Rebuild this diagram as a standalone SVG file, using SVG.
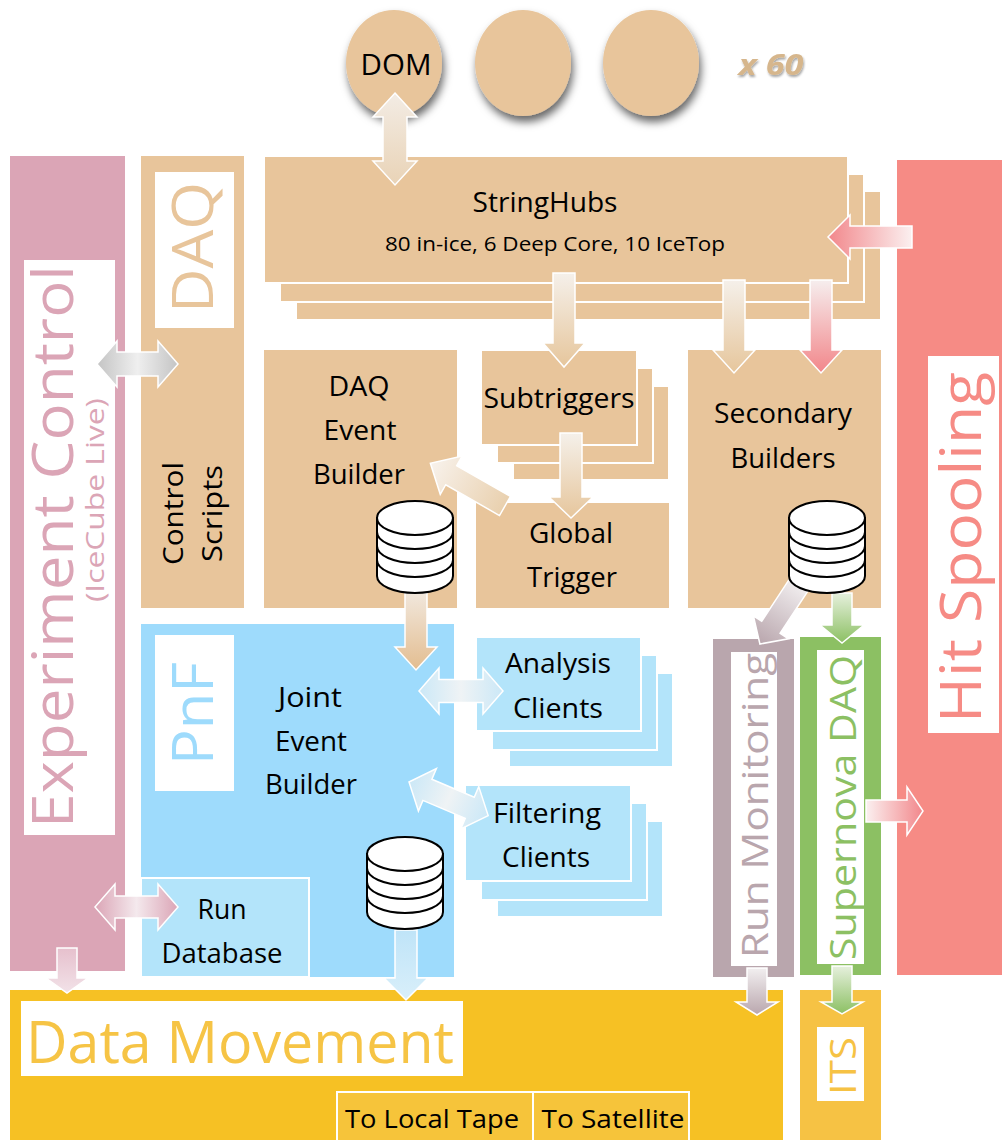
<svg xmlns="http://www.w3.org/2000/svg" width="1002" height="1140" viewBox="0 0 1002 1140">
<style>
text { font-family: "Open Sans", "Noto Sans", "Liberation Sans", sans-serif; }
.b { font-size: 27px; fill: #000; text-anchor: middle; }
.big { font-size: 57px; }
.mid { font-size: 37px; }
.tan { fill: #e8c59b; }
.tanbox { fill: #e8c59b; stroke: #fff; stroke-width: 2; }
.cli { fill: #b3e4fa; stroke: #fff; stroke-width: 2; }
.lbl { fill: #fff; }
.arr { stroke: #fff; stroke-width: 1.5; stroke-linejoin: miter; }
</style>
<defs>
<filter id="shadow" x="-30%" y="-30%" width="160%" height="170%">
<feDropShadow dx="2" dy="6" stdDeviation="4" flood-color="#000" flood-opacity="0.6"/>
</filter>
<filter id="tshadow" x="-20%" y="-30%" width="150%" height="170%">
<feDropShadow dx="1" dy="2" stdDeviation="1.2" flood-color="#000" flood-opacity="0.35"/>
</filter>
<g id="db-icon">
<path d="M1,18 V76 A38,17 0 0 0 77,76 V18 Z" fill="#fff" stroke="#000" stroke-width="2"/>
<ellipse cx="39" cy="18" rx="38" ry="17" fill="#fff" stroke="#000" stroke-width="2"/>
<path d="M1,32 A38,17 0 0 0 77,32 M1,46 A38,17 0 0 0 77,46 M1,60 A38,17 0 0 0 77,60" fill="none" stroke="#000" stroke-width="2"/>
</g>
<linearGradient id="gTanV" x1="0" y1="0" x2="0" y2="1"><stop offset="0" stop-color="#f5f0ea"/><stop offset="1" stop-color="#e6c69c"/></linearGradient>
<linearGradient id="gTanDom" x1="0" y1="0" x2="0" y2="1"><stop offset="0" stop-color="#f3ece4"/><stop offset="1" stop-color="#e9d3b6"/></linearGradient>
<linearGradient id="gTanDiag" x1="0" y1="0" x2="1" y2="0"><stop offset="0" stop-color="#e9d0ae"/><stop offset="1" stop-color="#f8f2ec"/></linearGradient>
<linearGradient id="gTanDb" x1="0" y1="0" x2="0" y2="1"><stop offset="0" stop-color="#f1e7dc"/><stop offset="1" stop-color="#e3bd90"/></linearGradient>
<linearGradient id="gPinkV" x1="0" y1="0" x2="0" y2="1"><stop offset="0" stop-color="#f6eeee"/><stop offset="1" stop-color="#f2868a"/></linearGradient>
<linearGradient id="gPinkL" x1="0" y1="0" x2="1" y2="0"><stop offset="0" stop-color="#f2878b"/><stop offset="1" stop-color="#fbf0f0"/></linearGradient>
<linearGradient id="gPinkR" x1="0" y1="0" x2="1" y2="0"><stop offset="0" stop-color="#fbf0f0"/><stop offset="1" stop-color="#f2878b"/></linearGradient>
<linearGradient id="gBlueD" x1="0" y1="0" x2="1" y2="0"><stop offset="0" stop-color="#cbe8f7"/><stop offset="0.5" stop-color="#eff3f5"/><stop offset="1" stop-color="#cbe8f7"/></linearGradient>
<linearGradient id="gBlueV" x1="0" y1="0" x2="0" y2="1"><stop offset="0" stop-color="#bfe4f8"/><stop offset="1" stop-color="#d9effa"/></linearGradient>
<linearGradient id="gGrayD" x1="0" y1="0" x2="1" y2="0"><stop offset="0" stop-color="#c4c4c4"/><stop offset="0.5" stop-color="#efefef"/><stop offset="1" stop-color="#c4c4c4"/></linearGradient>
<linearGradient id="gEcD" x1="0" y1="0" x2="1" y2="0"><stop offset="0" stop-color="#dba5b6"/><stop offset="0.5" stop-color="#f4e9ed"/><stop offset="1" stop-color="#dba5b6"/></linearGradient>
<linearGradient id="gEcV" x1="0" y1="0" x2="0" y2="1"><stop offset="0" stop-color="#e6c0cd"/><stop offset="1" stop-color="#f2e2e8"/></linearGradient>
<linearGradient id="gMauveDiag" x1="0" y1="0" x2="1" y2="0"><stop offset="0" stop-color="#f2eff0"/><stop offset="1" stop-color="#b9a6ad"/></linearGradient>
<linearGradient id="gMauveV" x1="0" y1="0" x2="0" y2="1"><stop offset="0" stop-color="#f2eff0"/><stop offset="1" stop-color="#b9a6ad"/></linearGradient>
<linearGradient id="gGreenV" x1="0" y1="0" x2="0" y2="1"><stop offset="0" stop-color="#e6f0dd"/><stop offset="1" stop-color="#8cc063"/></linearGradient>
</defs>

<rect width="1002" height="1140" fill="#fff"/>

<g id="dom-modules">
<ellipse cx="394" cy="63" rx="48" ry="53" fill="#e8c59b" filter="url(#shadow)"/>
<ellipse cx="523" cy="63" rx="48" ry="53" fill="#e8c59b" filter="url(#shadow)"/>
<ellipse cx="651" cy="63" rx="48" ry="53" fill="#e8c59b" filter="url(#shadow)"/>
<text x="396" y="75" font-size="30" fill="#000" text-anchor="middle" textLength="71" lengthAdjust="spacingAndGlyphs">DOM</text>
<text x="771" y="75" font-size="28" font-style="italic" font-weight="bold" fill="#d6b68c" text-anchor="middle" textLength="65" lengthAdjust="spacingAndGlyphs" filter="url(#tshadow)">x 60</text>
</g>

<g id="experiment-control">
<rect x="10" y="156" width="115" height="815" fill="#dba5b6"/>
<rect class="lbl" x="24" y="260" width="91" height="575"/>
<text class="big" transform="translate(73,828) rotate(-90)" fill="#dba5b6" textLength="563" lengthAdjust="spacingAndGlyphs">Experiment Control</text>
<text transform="translate(104,602) rotate(-90)" font-size="25" fill="#dba5b6" textLength="204" lengthAdjust="spacingAndGlyphs">(IceCube Live)</text>
</g>

<g id="daq-control-scripts">
<rect x="141" y="156" width="103" height="452" fill="#e8c59b"/>
<rect class="lbl" x="155" y="172" width="79" height="156"/>
<text class="big tan" transform="translate(213,313) rotate(-90)" textLength="131" lengthAdjust="spacingAndGlyphs">DAQ</text>
<text transform="translate(183,565) rotate(-90)" font-size="27" fill="#000" textLength="103" lengthAdjust="spacingAndGlyphs">Control</text>
<text transform="translate(222,562) rotate(-90)" font-size="27" fill="#000" textLength="97" lengthAdjust="spacingAndGlyphs">Scripts</text>
</g>

<g id="stringhubs">
<rect class="tanbox" x="296" y="191" width="585" height="129"/>
<rect class="tanbox" x="280" y="174" width="584" height="128"/>
<rect class="tanbox" x="264" y="156" width="584" height="127"/>
<text class="b" x="545" y="212" textLength="145" lengthAdjust="spacingAndGlyphs">StringHubs</text>
<text class="b" x="555" y="251" style="font-size:20px" textLength="340" lengthAdjust="spacingAndGlyphs">80 in-ice, 6 Deep Core, 10 IceTop</text>
</g>

<g id="daq-event-builder">
<rect x="264" y="350" width="193" height="258" fill="#e8c59b"/>
<text class="b" x="359" y="396" textLength="61" lengthAdjust="spacingAndGlyphs">DAQ</text>
<text class="b" x="360" y="440" textLength="73" lengthAdjust="spacingAndGlyphs">Event</text>
<text class="b" x="359" y="484" textLength="92" lengthAdjust="spacingAndGlyphs">Builder</text>
</g>

<g id="subtriggers">
<rect class="tanbox" x="513" y="386" width="156" height="94"/>
<rect class="tanbox" x="497" y="368" width="156" height="95"/>
<rect class="tanbox" x="481" y="350" width="156" height="95"/>
<text class="b" x="559" y="408" textLength="151" lengthAdjust="spacingAndGlyphs">Subtriggers</text>
</g>

<g id="global-trigger">
<rect x="476" y="503" width="193" height="105" fill="#e8c59b"/>
<text class="b" x="571" y="543" textLength="84" lengthAdjust="spacingAndGlyphs">Global</text>
<text class="b" x="572" y="587" textLength="90" lengthAdjust="spacingAndGlyphs">Trigger</text>
</g>

<g id="secondary-builders">
<rect x="688" y="350" width="193" height="258" fill="#e8c59b"/>
<text class="b" x="783" y="423" textLength="138" lengthAdjust="spacingAndGlyphs">Secondary</text>
<text class="b" x="783" y="468" textLength="105" lengthAdjust="spacingAndGlyphs">Builders</text>
</g>

<g id="hit-spooling">
<rect x="897" y="160" width="105" height="815" fill="#f68b85"/>
<rect class="lbl" x="928" y="356" width="71" height="377"/>
<text class="big" transform="translate(981,723) rotate(-90)" fill="#f68b85" textLength="351" lengthAdjust="spacingAndGlyphs">Hit Spooling</text>
</g>

<g id="pnf-joint-event-builder">
<rect x="141" y="624" width="313" height="353" fill="#9edbfc"/>
<rect class="lbl" x="155" y="635" width="79" height="156"/>
<text class="big" transform="translate(213,765) rotate(-90)" fill="#9edbfc" textLength="103" lengthAdjust="spacingAndGlyphs">PnF</text>
<text class="b" x="310" y="707" textLength="64" lengthAdjust="spacingAndGlyphs">Joint</text>
<text class="b" x="311" y="751" textLength="72" lengthAdjust="spacingAndGlyphs">Event</text>
<text class="b" x="311" y="794" textLength="92" lengthAdjust="spacingAndGlyphs">Builder</text>
</g>

<g id="run-database">
<rect class="cli" x="141" y="878" width="168" height="99"/>
<text class="b" x="222" y="919" textLength="49" lengthAdjust="spacingAndGlyphs">Run</text>
<text class="b" x="222" y="963" textLength="121" lengthAdjust="spacingAndGlyphs">Database</text>
</g>

<g id="analysis-clients">
<rect class="cli" x="509" y="673" width="164" height="94"/>
<rect class="cli" x="492" y="655" width="165" height="95"/>
<rect class="cli" x="476" y="637" width="165" height="94"/>
<text class="b" x="558" y="673" textLength="106" lengthAdjust="spacingAndGlyphs">Analysis</text>
<text class="b" x="558" y="718" textLength="90" lengthAdjust="spacingAndGlyphs">Clients</text>
</g>

<g id="filtering-clients">
<rect class="cli" x="497" y="821" width="166" height="96"/>
<rect class="cli" x="481" y="803" width="166" height="97"/>
<rect class="cli" x="465" y="785" width="166" height="96"/>
<text class="b" x="547" y="823" textLength="108" lengthAdjust="spacingAndGlyphs">Filtering</text>
<text class="b" x="546" y="867" textLength="88" lengthAdjust="spacingAndGlyphs">Clients</text>
</g>

<g id="run-monitoring">
<rect x="713" y="639" width="81" height="338" fill="#b9a6ad"/>
<rect class="lbl" x="731" y="652" width="46" height="314"/>
<text class="mid" transform="translate(768,958) rotate(-90)" fill="#b9a6ad" textLength="305" lengthAdjust="spacingAndGlyphs">Run Monitoring</text>
</g>

<g id="supernova-daq">
<rect x="800" y="637" width="81" height="338" fill="#8cc063"/>
<rect class="lbl" x="817" y="650" width="47" height="314"/>
<text class="mid" transform="translate(856,960) rotate(-90)" fill="#8cc063" textLength="305" lengthAdjust="spacingAndGlyphs">Supernova DAQ</text>
</g>

<g id="data-movement">
<rect x="10" y="990" width="773" height="150" fill="#f6c124"/>
<rect class="lbl" x="21" y="1001" width="442" height="75"/>
<text x="26" y="1063" font-size="59" fill="#f6c445" textLength="428" lengthAdjust="spacingAndGlyphs">Data Movement</text>
<rect x="337" y="1092" width="196" height="50" fill="#f6c43a" stroke="#fff" stroke-width="2"/>
<rect x="533" y="1092" width="156" height="50" fill="#f6c43a" stroke="#fff" stroke-width="2"/>
<text class="b" x="432" y="1128" style="font-size:25px" textLength="174" lengthAdjust="spacingAndGlyphs">To Local Tape</text>
<text class="b" x="613" y="1128" style="font-size:25px" textLength="143" lengthAdjust="spacingAndGlyphs">To Satellite</text>
</g>

<g id="its">
<rect x="800" y="990" width="81" height="150" fill="#f6c244"/>
<rect class="lbl" x="817" y="1027" width="47" height="74"/>
<text class="mid" transform="translate(856,1095) rotate(-90)" fill="#f6c244" textLength="58" lengthAdjust="spacingAndGlyphs">ITS</text>
</g>

<g id="connectors">
<polygon class="arr" fill="url(#gTanDom)" points="395,93 417,117 407,117 407,161 417,161 395,185 373,161 383,161 383,117 373,117"/>
<polygon class="arr" fill="url(#gPinkL)" points="912,226 850,226 850,215 828,237 850,259 850,248 912,248"/>
<polygon class="arr" fill="url(#gTanV)" points="553,273 575,273 575,343 585,343 564,367 543,343 553,343"/>
<polygon class="arr" fill="url(#gTanV)" points="723,280 745,280 745,350 755,350 734,373 713,350 723,350"/>
<polygon class="arr" fill="url(#gPinkV)" points="810,280 832,280 832,350 842,350 821,373 800,350 810,350"/>
<polygon class="arr" fill="url(#gTanV)" points="560,433 582,433 582,497 593,497 571,518 549,497 560,497"/>
<polygon class="arr" fill="url(#gTanDiag)" transform="translate(505,506) rotate(209.8)" points="0,-11 62,-11 62,-22 86,0 62,22 62,11 0,11"/>
<polygon class="arr" fill="url(#gTanDb)" points="405,593 427,593 427,647 437,647 416,670 395,647 405,647"/>
<polygon class="arr" fill="url(#gBlueD)" points="419,691 439,668 439,679.5 483,679.5 483,668 503,691 483,714 483,702.5 439,702.5 439,714"/>
<polygon class="arr" fill="url(#gBlueD)" transform="translate(409,782) rotate(23)" points="0,0 20,-23 20,-11.5 66,-11.5 66,-23 86,0 66,23 66,11.5 20,11.5 20,23"/>
<polygon class="arr" fill="url(#gGrayD)" points="97,364 117,341 117,352 158,352 158,341 178,364 158,387 158,376 117,376 117,387"/>
<polygon class="arr" fill="url(#gEcD)" points="95,907 115,884 115,896 158,896 158,884 178,907 158,930 158,918 115,918 115,930"/>
<polygon class="arr" fill="url(#gEcV)" points="57,948 77,948 77,978 88,978 67,993 46,978 57,978"/>
<polygon class="arr" fill="url(#gBlueV)" points="395,930 417,930 417,978 428,978 406,1000 384,978 395,978"/>
<polygon class="arr" fill="url(#gMauveDiag)" transform="translate(800,583) rotate(123.3)" points="0,-11 53,-11 53,-21 73,0 53,21 53,11 0,11"/>
<polygon class="arr" fill="url(#gGreenV)" points="832,593 852,593 852,625 864,625 842,643 820,625 832,625"/>
<polygon class="arr" fill="url(#gPinkR)" points="866,800 907,800 907,787 923,811 907,835 907,822 866,822"/>
<polygon class="arr" fill="url(#gMauveV)" points="747,968 767,968 767,1002 778,1002 757,1015 736,1002 747,1002"/>
<polygon class="arr" fill="url(#gGreenV)" points="832,966 852,966 852,1002 863,1002 842,1014 821,1002 832,1002"/>
</g>

<g id="daq-event-builder-storage"><use href="#db-icon" transform="translate(376,500)"/></g>
<g id="secondary-builders-storage"><use href="#db-icon" transform="translate(788,500)"/></g>
<g id="joint-event-builder-storage"><use href="#db-icon" transform="translate(366,836)"/></g>
</svg>
